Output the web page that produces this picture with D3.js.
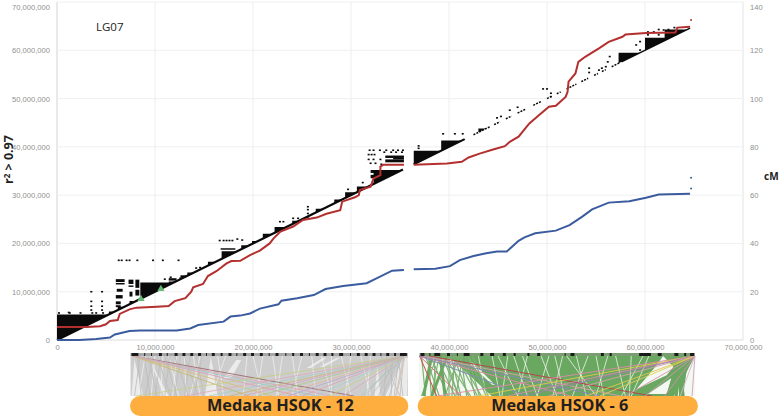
<!DOCTYPE html>
<html>
<head>
<meta charset="utf-8">
<script src="https://cdnjs.cloudflare.com/ajax/libs/d3/7.8.5/d3.min.js"></script>
<style>
  html, body { margin: 0; padding: 0; background: #fff; }
  svg { display: block; font-family: "Open Sans", sans-serif; }
  .tick text { fill: #8f8f8f; font-size: 7.6px; }
</style>
</head>
<body>
<div id="chart"></div>
<script>
// tick values (Mb on both position axes, cM on the right)
const posTicks = [0, 10, 20, 30, 40, 50, 60, 70];
const cmTicks = [0, 20, 40, 60, 80, 100, 120, 140];

// recombination lines, [Mb, cM], split at the gap in the assembly
const redLeft = [[0,5.4],[3,5.4],[4.4,5.7],[5,6.5],[5.4,7.9],[6.2,8.3],[6.4,10.8],[7.4,12.7],[8.1,13.4],[10.2,13.8],[11.4,14.1],[12,16.1],[13.1,17.3],[13.7,20],[13.9,21.8],[14.9,23.2],[15.4,26.5],[16.3,28.6],[17.3,31.7],[17.8,32.7],[18.7,32.8],[19.7,35.2],[20.7,37],[21.7,40],[22.1,42.1],[22.8,44.9],[24.1,47],[25.1,49.7],[26.5,50.7],[27.5,52.3],[28.9,53.8],[29.1,57.3],[30.4,59.1],[30.8,60],[30.9,62.1],[32,63.5],[32.3,66.9],[33,68.3],[33,71.8],[33.3,72.6],[35.4,72.6]];
const redRight = [[36.4,72.6],[39.8,73.1],[41.3,73.8],[42,75.6],[43.2,77.3],[44.5,78.9],[45.7,80.3],[46.2,82.1],[47.1,84.2],[48.2,89.7],[49.2,93.2],[50.2,96.6],[50.9,97],[51.9,100.7],[52.1,102.8],[52.2,107],[52.9,110.4],[53.2,115.2],[53.9,117.3],[55.3,120.8],[56.3,123.5],[57.7,125.6],[58,126.5],[60.1,127.2],[63.1,127.4],[63.3,129.4],[64.6,129.7]];
const blueLeft = [[0,0],[2.3,0],[4,0.4],[5.4,1],[5.9,2.3],[7.4,3.7],[8.5,3.9],[12.2,3.9],[13.6,4.8],[14.4,6.2],[17,7.6],[17.7,9.7],[18.7,10.1],[19.7,11],[20.7,13],[22.6,14.8],[22.9,16.3],[24.5,17.3],[26.2,18.6],[27.4,21.1],[29.2,22.4],[31.6,23.5],[32.6,25.5],[34.2,28.7],[35.4,29]];
const blueRight = [[36.4,29.3],[38.6,29.5],[40.1,30.6],[41.1,33.1],[42.5,34.8],[43.8,35.9],[44.9,36.7],[45.9,36.7],[47.1,41.1],[47.7,42.5],[48.8,44.2],[50.9,45.3],[52.3,47.6],[53.6,51.1],[54.6,54.1],[56.3,56.9],[58.4,57.5],[60.1,58.9],[61.4,60.3],[64.6,60.6]];
const redOutliers = [[64.7,132.5]];
const blueOutliers = [[64.7,62.8],[64.7,67.2]];

// LD: stretches along the diagonal, [from, to]
const diagThick = [[0,35.3],[36.4,41.6]];
const diagThin = [[42.5,44.2],[44.6,45.2],[45.8,46.4],[47,47.8],[48.6,49.4],[50,50.4],[51,51.4],[52,53],[53.5,54.2],[54.8,55.2],[55.6,56],[56.6,57.4],[57.6,64.6]];
// LD blocks above the diagonal, [start, top]
const ldTriangles = [[0,5.3],[5.3,5.9],[6.2,6.9],[7.4,8.1],[8.5,11.9],[11.4,12.1],[12.5,13],[13.3,14],[15.4,16.2],[16.8,18.4],[18.8,19.6],[19.9,20.5],[21,22],[22.2,23.4],[24,24.7],[26.4,27.2],[28.3,29.1],[29.4,30.6],[30.6,31.8],[32.3,35.2],[36.4,39.2],[39.2,41.3],[43,43.8],[57.3,59.5],[60,62.6],[62,64.3]];
// dense rectangular patches, [x0, x1, y0, y1]
const ldPatches = [[6,6.9,12,12.6],[6,6.9,11.5,11.8],[6.1,6.7,10,10.6],[6,6.7,8.6,9.3],[6,6.5,7.4,8],[6,6.5,6.8,7.2],[7.3,7.8,11.6,12.5],[7.3,7.8,11,11.3],[7.4,7.7,9,10],[8,8.4,9.2,10.4],[8,8.4,10.8,12.5],[11.4,12.2,12.3,12.8],[12.6,13.2,13,13.4],[16.7,18.2,18.7,19],[33.5,35.4,37.7,38.2],[33.5,35.4,36.8,37.4],[34.3,35.4,37.4,37.7],[32,32.7,33.5,34.2],[32,32.7,34.6,35.2]];
// stray LD pairs
const ldDots = [[3.5,10],[4.6,10],[3.5,8],[4.6,8],[3.5,7],[4.6,7],[3.5,6.2],[4.6,6.2],
  [0.2,5.6],[1.2,5.7],[1.3,5.6],[2.4,5.6],[3.6,5.6],[4,5.6],[4.7,5.6],[5.5,5.6],
  [6.3,16.5],[6.6,16.5],[7.1,16.5],[7.4,16.5],[8.2,16.5],[9.8,16.5],[10.8,16.5],[12.4,16.5],
  [11,12.6],[11.6,13],[14.2,14.9],[14.6,15],
  [16.6,20.6],[17,20.6],[17.3,20.6],[17.6,20.6],[17.9,20.6],[18.4,20.9],[18.9,20.7],
  [22.75,24.5],[23.1,24.5],[24.1,25.2],[24.6,25.2],[25.6,27.6],[25.6,27],[25.6,26.2],[25.6,25.5],
  [29.7,31.2],[31.2,32.6],
  [31.9,39.3],[32.3,39.3],[32.95,39.3],[33.6,39.3],[34.3,39.3],[34.8,39.3],[35.3,39.3],
  [31.8,38.4],[32.1,38.4],[32.4,38.4],[33.4,38.9],[34.1,38.9],[34.6,38.9],[35.2,38.9],
  [31.8,37.4],[32.3,37.4],[33,37.4],[32,36.6],[32.5,36.6],[33.1,36.4],
  [39.4,42.7],[40.6,42.7],[41.4,42.7],[36.9,40.2],[36.9,39.7],
  [44.9,46],[45.3,46.3],[46.2,47.6],[47,48.2],
  [49.6,52],[50,52],[50.4,51.1],[50.4,50.4],[54.3,56.3],[54.3,55.4],[55.3,55.9],[55.6,56.3],[56,56.6],[56.2,57.6],[56.4,58.7],
  [59.1,61.1],[59.5,61.8],[59.5,60.05],[60.3,63.8],[60.3,63.2],[60.9,63.8],[61.4,64.3],[61.4,63.2],[61.9,64.2],[62.4,64.3],[62.4,63.8],[63,64.7]];
// green flagged pairs
const flagged = [[8.57,8.5],[10.6,10.6]];

const chartLabel = 'LG07';
const panelNames = ['Medaka HSOK - 12', 'Medaka HSOK - 6'];

// synteny panels: ranges in Mb on the chart's axis
const panelSpans = [[7.5,35.8],[37,65.1]];
const stripBlocks12 = [[7.6,8.3],[8.9,9],[9.6,9.7],[10.4,10.7],[11.2,11.3],[12,12.3],[12.8,13.1],[13.6,13.9],[14.4,14.7],[15.2,15.3],[15.8,16.1],[16.7,16.9],[17.5,17.8],[18.3,18.4],[19,19.3],[19.8,20.1],[20.7,21],[21.6,21.7],[22.3,22.6],[23.3,23.4],[24,24.2],[24.8,25.1],[25.7,25.8],[26.4,26.7],[27.2,27.5],[28,28.2],[28.8,29.2],[29.9,30],[30.6,30.9],[31.4,31.7],[32.2,32.5],[33,33.1],[33.6,33.9],[34.4,34.6],[35,35.7]];
const stripBlocks6 = [[37.1,37.5],[38,38.1],[38.5,39.1],[39.8,40.1],[40.8,40.9],[41.5,42.1],[43.2,43.5],[44.2,44.6],[45.5,45.8],[46.6,46.8],[48,48.2],[49,49.3],[51.8,51.9],[52.4,52.8],[55.5,55.8],[56.4,56.6],[59.4,60.6],[61.3,61.7],[63,63.4],[64,64.2],[64.6,65]];

// solid ribbons [fill colour is chosen per panel], white gaps as [Mb, share of height] outlines
const gaps12 = [
  [[15.7,0.02],[15.1,1],[16.4,1]],
  [[18.3,0.1],[17,0.55],[17.8,0.55],[18.8,0.1]],
  [[7.9,0.08],[7.6,1],[8.8,1]],
  [[9.5,0.1],[11.4,1],[10.9,1]],
  [[27.1,0.05],[25.5,0.3],[25.9,0.3],[27.5,0.05]],
  [[28.5,0.05],[26.8,0.27],[27.2,0.27],[28.9,0.05]],
  [[35.2,0.12],[33.5,1],[34.5,1]],
  [[35.5,0.05],[34.7,1],[35.7,1],[35.8,0.05]],
  [[32.7,0.2],[33,1],[32.4,1]]
];
const gaps6 = [
  [[36.95,0.015],[40.3,0.075],[44.36,1],[36.95,1]],
  [[42,0.16],[44.4,0.72],[44.7,0.72],[42.4,0.16]],
  [[61.85,0],[62.9,0.27],[62.2,0.48],[59.1,0.84],[61,0.29]],
  [[64.2,0.42],[65.1,0],[65.1,1],[63.9,1]],
  [[63.3,0.6],[62.9,1],[63.5,1]],
  [[62.7,0.55],[60.3,0.95],[62.2,0.95]]
];
// individual links, [position on top, position on bottom]
const grayLinks12 = [[8.2,8.6],[8.5,7.9],[8.9,9.5],[9.3,10.2],[9.8,9],[10.2,11.6],[10.6,10],[11,12.2],[11.5,11],[12,13.4],[12.6,12],[13,14.4],[13.6,13],[14.2,15],[14.8,14],[35,33.2],[34.6,32.8],[34.2,34.1],[33.6,33.4],[33.1,35],[35.4,35],[35.5,34.6],[35.3,32],[35,31.4],[34.8,35.3],[35.2,33.9],[34.9,34.4]];
const whiteLinks12 = [[9,8.3],[10,9.6],[10.8,10.6],[11.4,12.4],[12.2,11.8],[13,13.2],[13.9,14.6],[14.6,13.6],[16.4,17],[17.2,15.8],[19.4,19],[20,21],[21,20.4],[22,22.6],[23,22.4],[24,24.6],[25,24],[26,26.4],[27,28],[28,28],[29,30],[30,29.4],[31,32],[32,31.6]];
const whiteLinks6 = [[44.4,45.2],[45,47],[46.6,48],[47.5,49],[48,47],[49.4,51],[50.2,49],[50.8,51.8],[51.6,50.6],[53,54],[54.2,52.6],[55,55.8],[56.2,55],[57,58],[58.6,58.4],[59.8,57.6],[60.4,58.6],[52,55],[46,45.4],[43,43.8]];
const greenLinks6 = [[37.2,37.6],[38.24,37.4],[39.1,39.6],[39.8,38.24],[39.6,40.96],[40.45,42],[40.96,43.3],[41.64,42.66],[38.5,38.6],[37.6,39],[38.8,37.2],[39.3,41],[40,40],[41,39.6],[42,43.8],[37.9,38.2],[38.1,39.9],[38.7,40.6],[39.5,42.2],[40.2,41.2],[40.7,42.9],[41.2,41.8],[41.9,43.1],[42.4,44],[39,38.2],[40.6,40.3],[41.4,40.7]];
const greenThick6 = [[38.24,37.4],[39.1,39.6],[39.8,38.24],[63.4,62.4],[63.4,63.9],[63.4,63.2],[64.8,62.8],[64.9,62.2],[64.4,63.6]];
// coloured links fanning out of the panel corners
const fanLeft12 = [[7.75,30.3],[7.75,22],[7.75,24.6],[7.75,26.5],[7.75,19.6],[7.75,28]];
const fanRight12 = [[35.5,8],[35.5,13],[35.5,15.5],[35.5,17.6],[35.5,19],[35.5,20.5],[35.5,22.4],[35.5,23.6],[35.5,25],[35.5,26.4],[35.5,27.8],[35.5,29.2],[35.5,31],[35.5,34.6]];
const fanLeft6 = [[37,38.75],[38,60.7],[37,48],[37,52.4],[37,55.4],[37.4,57.5],[37,41.2]];
const fanRight6 = [[65.1,38.8],[65.1,43],[65.1,46],[65.1,47.6],[65.1,50.2],[65.1,54],[65.1,55.4],[65.1,58],[65.1,60],[65.1,62],[65.1,63.6],[65.1,64.8]];

const fanColours12 = ['#9a6b6b','#d8c27a','#dba3b8','#9fc9c4','#c8b96a','#d9a9bb'];
const fanColoursR12 = ['#c7cf86','#e0a8bb','#a6cfc8','#c9b27c','#d8a6c0','#a8c98f','#e3b4a0','#b8a7cd','#dba3b8','#a4d0d2','#c7cf86','#d9a9bb','#9fc9c4','#f0cdb2'];
const fanColours6 = ['#cf4a4d','#b8454e','#7f8fb3','#d98aa6','#8d86b8','#d0a0a8','#d96f7f'];
const fanColoursR6 = ['#de8ba5','#dccb4c','#d58aa8','#9c7fb0','#d6a0ac','#dccb4c','#e3cd55','#d98fa9','#c79ab0','#cf8fb0','#d7b8c8','#d3a2bd'];

const width = 779, height = 416;
const svg = d3.select('#chart').append('svg').attr('width', width).attr('height', height);

const x = d3.scaleLinear().domain([0, 70]).range([57, 743]);
const y = d3.scaleLinear().domain([0, 70]).range([340, 2]);
const yCm = d3.scaleLinear().domain([0, 140]).range([340, 2]);
const bandY = d3.scaleLinear().domain([0, 1]).range([356, 396]);
const comma = d3.format(',');

// Grid
svg.append('g').selectAll('line').data(posTicks).join('line')
    .attr('x1', d => x(d)).attr('x2', d => x(d))
    .attr('y1', y(0)).attr('y2', y(70))
    .style('stroke', d => (d === 0 || d === 70) ? '#e4e4e4' : '#eeeeee')
    .style('stroke-width', d => d === 0 ? 1.6 : 1);
svg.append('g').selectAll('line').data(posTicks).join('line')
    .attr('x1', x(0)).attr('x2', x(70))
    .attr('y1', d => y(d)).attr('y2', d => y(d))
    .style('stroke', d => d === 0 ? '#dcdcdc' : '#f0f0f0');

// Axes
const axisLeft = d3.axisLeft(y).tickValues(posTicks).tickSize(0).tickPadding(7).tickFormat(d => comma(d * 1e6));
const axisBottom = d3.axisBottom(x).tickValues(posTicks).tickSize(0).tickPadding(5).tickFormat(d => comma(d * 1e6));
const axisRight = d3.axisRight(yCm).tickValues(cmTicks).tickSize(0).tickPadding(7);
const gLeft = svg.append('g').attr('transform', `translate(${x(0)},0)`).call(axisLeft);
gLeft.select('.domain').remove();
svg.append('g').attr('transform', `translate(0,${y(0)})`).call(axisBottom).select('.domain').remove();
const gRight = svg.append('g').attr('transform', `translate(${x(70)},0)`).call(axisRight);
gRight.select('.domain').remove();
// the top labels sit on the page edge, nudge them inside
gLeft.selectAll('.tick text').filter(d => d === 70).attr('dy', '0.95em');
gRight.selectAll('.tick text').filter(d => d === 140).attr('dy', '0.95em');

// LD blocks
const ld = svg.append('g').style('fill', '#0a0a0a');
ld.selectAll('path.tri').data(ldTriangles).join('path').attr('class', 'tri')
    .attr('d', d => `M${x(d[0])},${y(d[0])}L${x(d[0])},${y(d[1])}L${x(d[1])},${y(d[1])}Z`);
ld.selectAll('rect.patch').data(ldPatches).join('rect').attr('class', 'patch')
    .attr('x', d => x(d[0])).attr('width', d => x(d[1]) - x(d[0]))
    .attr('y', d => y(d[3])).attr('height', d => y(d[2]) - y(d[3]));
ld.selectAll('rect.dot').data(ldDots).join('rect').attr('class', 'dot')
    .attr('x', d => x(d[0]) - 1).attr('y', d => y(d[1]) - 0.8)
    .attr('width', 2).attr('height', 1.6);
svg.append('g').selectAll('line').data(diagThick).join('line')
    .attr('x1', d => x(d[0])).attr('y1', d => y(d[0]))
    .attr('x2', d => x(d[1])).attr('y2', d => y(d[1]))
    .style('stroke', '#0a0a0a').style('stroke-width', 2.2);
svg.append('g').selectAll('line').data(diagThin).join('line')
    .attr('x1', d => x(d[0])).attr('y1', d => y(d[0]))
    .attr('x2', d => x(d[1])).attr('y2', d => y(d[1]))
    .style('stroke', '#0a0a0a').style('stroke-width', 1.5)
    .style('stroke-dasharray', d => d[1] - d[0] > 3 ? null : '2 1.2');

// Flagged pairs
svg.append('g').selectAll('path').data(flagged).join('path')
    .attr('d', d3.symbol(d3.symbolTriangle, 22))
    .attr('transform', d => `translate(${x(d[0])},${y(d[1])})`)
    .style('fill', '#63b96f');

// Recombination lines
const line = d3.line().x(d => x(d[0])).y(d => yCm(d[1]));
[[redLeft, '#b3302f'], [redRight, '#b3302f'], [blueLeft, '#3a5c9f'], [blueRight, '#3a5c9f']].forEach(s => {
    svg.append('path').attr('d', line(s[0]))
        .style('fill', 'none').style('stroke', s[1]).style('stroke-width', 2);
});
[[redOutliers, '#b3302f'], [blueOutliers, '#3a5c9f']].forEach(s => {
    svg.append('g').selectAll('circle').data(s[0]).join('circle')
        .attr('cx', d => x(d[0])).attr('cy', d => yCm(d[1])).attr('r', 1)
        .style('fill', s[1]);
});

// Text labels
svg.append('text').attr('x', 96).attr('y', 31).text(chartLabel)
    .style('font-size', '11.5px').style('fill', '#222');
const rLabel = svg.append('text').attr('transform', 'translate(13,184) rotate(-90)')
    .style('font-size', '12.5px').style('font-weight', 700).style('fill', '#222');
rLabel.append('tspan').text('r');
rLabel.append('tspan').text('2').attr('dy', -3).style('font-size', '8px');
rLabel.append('tspan').text(' > 0.97').attr('dy', 3);
svg.append('text').attr('x', 764).attr('y', 180).text('cM')
    .style('font-size', '10px').style('font-weight', 700).style('fill', '#222');

// Synteny ribbons
function linkPath(d) {
    return `M${x(d[0])},${bandY(0)}L${x(d[1])},${bandY(1)}`;
}
function drawLinks(data, colour, w) {
    svg.append('g').selectAll('path').data(data).join('path')
        .attr('d', linkPath)
        .style('fill', 'none')
        .style('stroke', typeof colour === 'string' ? colour : (d, i) => colour[i % colour.length])
        .style('stroke-width', w);
}
function drawGaps(data, opacity) {
    const outline = d3.line().x(d => x(d[0])).y(d => bandY(d[1]));
    svg.append('g').selectAll('path').data(data).join('path')
        .attr('d', d => outline(d) + 'Z')
        .style('fill', '#fff').style('opacity', opacity);
}
function drawRibbon(span, fill) {
    svg.append('path')
        .attr('d', d3.line().x(d => x(d[0])).y(d => bandY(d[1]))([[span[0], 0], [span[1], 0], [span[1], 1], [span[0], 1]]) + 'Z')
        .style('fill', fill);
}
function drawStrip(span, blocks, fill) {
    svg.append('rect').attr('x', x(span[0])).attr('width', x(span[1]) - x(span[0]))
        .attr('y', 353).attr('height', 3).style('fill', fill);
    svg.append('g').selectAll('rect').data(blocks).join('rect')
        .attr('x', d => x(d[0])).attr('width', d => x(d[1]) - x(d[0]))
        .attr('y', 353).attr('height', 3).style('fill', '#1a1a1a');
}

drawRibbon(panelSpans[0], '#cdcdcd');
drawGaps(gaps12, 0.6);
drawLinks(whiteLinks12, '#f4f4f4', 0.7);
drawLinks(grayLinks12, '#bcbcbc', 0.8);
drawLinks(fanLeft12, fanColours12, 0.9);
drawLinks(fanRight12, fanColoursR12, 0.8);
drawStrip(panelSpans[0], stripBlocks12, '#a8a8a8');

drawRibbon(panelSpans[1], '#6aa760');
drawGaps(gaps6, 0.92);
drawLinks(whiteLinks6, '#ffffff', 0.7);
drawLinks(greenLinks6, '#7db274', 1.2);
drawLinks(greenThick6, '#6aa760', 3);
drawLinks(fanLeft6, fanColours6, 1);
drawLinks(fanRight6, fanColoursR6, 0.9);
drawStrip(panelSpans[1], stripBlocks6, '#7c9c72');

// Name pills
const pillSpans = [[7.45,35.85],[36.8,65.4]];
const nameCentres = [22.8, 51.3];
const nameWidths = [147, 137];
pillSpans.forEach((p, i) => {
    svg.append('rect').attr('x', x(p[0])).attr('width', x(p[1]) - x(p[0]))
        .attr('y', 396).attr('height', 20).attr('rx', 10)
        .style('fill', '#fdae3e');
    svg.append('text').attr('x', x(nameCentres[i])).attr('y', 411)
        .attr('text-anchor', 'middle').text(panelNames[i])
        .attr('textLength', nameWidths[i]).attr('lengthAdjust', 'spacingAndGlyphs')
        .style('font-size', '16.5px').style('font-weight', 700).style('fill', '#231f20');
});
</script>
</body>
</html>
